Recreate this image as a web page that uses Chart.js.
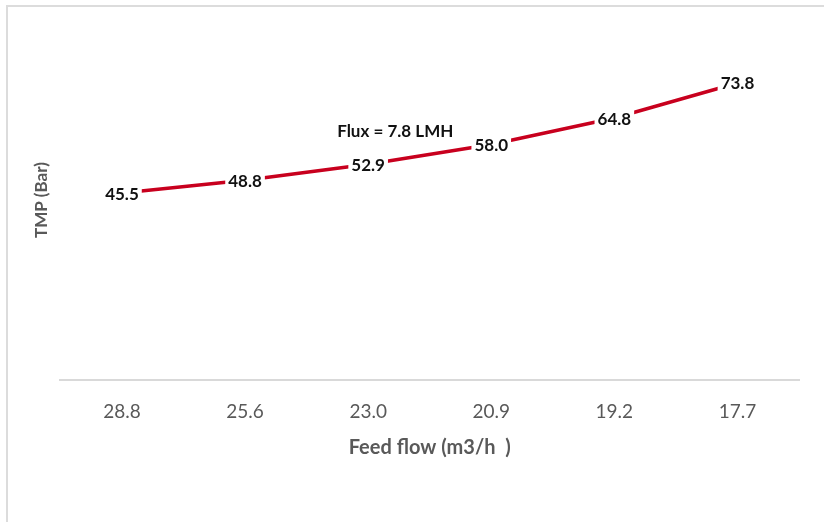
<!DOCTYPE html>
<html>
<head>
<meta charset="utf-8">
<script src="https://cdn.jsdelivr.net/npm/chart.js@4/dist/chart.umd.min.js"></script>
<style>
  html, body { margin: 0; padding: 0; background: #fff; overflow: hidden; }
  #wrap { position: relative; width: 824px; height: 522px; }
  #frame { position: absolute; left: 6px; top: 5px; width: 840px; height: 540px;
           border: 2px solid #dcdcdc; box-sizing: border-box; pointer-events: none; }
  canvas { position: absolute; left: 0; top: 0; }
</style>
</head>
<body>
<div id="wrap">
  <canvas id="chart" width="824" height="522"></canvas>
  <div id="frame"></div>
</div>
<script>
// Feed flow (m3/h) at each operating point
const feedFlow = ['28.8', '25.6', '23.0', '20.9', '19.2', '17.7'];
// Transmembrane pressure (bar) measured at each feed flow
const tmpBar = [45.5, 48.8, 52.9, 58.0, 64.8, 73.8];
// Operating condition note
const fluxNote = 'Flux = 7.8 LMH';

const FONT = 'Lato, "Open Sans", sans-serif';

// Value labels drawn on top of the line, each on a white patch
const valueLabels = {
  id: 'valueLabels',
  afterDatasetsDraw(chart) {
    const ctx = chart.ctx;
    const meta = chart.getDatasetMeta(0);
    ctx.save();
    ctx.font = 'bold 17px ' + FONT;
    ctx.textAlign = 'center';
    ctx.textBaseline = 'middle';
    meta.data.forEach((pt, i) => {
      const txt = tmpBar[i].toFixed(1);
      const w = ctx.measureText(txt).width;
      ctx.fillStyle = '#ffffff';
      ctx.fillRect(pt.x - w / 2 - 3, pt.y - 9, w + 6, 18);
      ctx.fillStyle = '#111111';
      ctx.fillText(txt, pt.x, pt.y + 1);
    });
    // condition note placed in data space
    const xs = chart.scales.x, ys = chart.scales.y;
    ctx.font = 'bold 17px ' + FONT;
    ctx.fillStyle = '#111111';
    ctx.fillText(fluxNote, xs.getPixelForValue(2.22), ys.getPixelForValue(61.4));
    ctx.restore();
  }
};

new Chart(document.getElementById('chart'), {
  type: 'line',
  data: {
    labels: feedFlow,
    datasets: [{
      data: tmpBar,
      borderColor: '#c8001e',
      borderWidth: 3.5,
      pointRadius: 0,
      tension: 0,
      fill: false
    }]
  },
  options: {
    responsive: false,
    animation: false,
    layout: { padding: { left: 27, right: 25, top: 20, bottom: 62 } },
    plugins: { legend: { display: false }, tooltip: { enabled: false } },
    scales: {
      x: {
        offset: true,
        grid: { display: false, drawTicks: false },
        border: { display: true, color: '#d9d9d9', width: 2 },
        ticks: { color: '#595959', font: { family: FONT, size: 19 }, padding: 20 },
        title: {
          display: true,
          text: 'Feed flow (m3/h  )',
          color: '#595959',
          font: { family: FONT, size: 20, weight: 'bold' },
          padding: { top: -7, bottom: 0 }
        }
      },
      y: {
        min: -2.6,
        max: 90,
        grid: { display: false, drawTicks: false },
        border: { display: false },
        ticks: { display: false },
        title: {
          display: true,
          text: 'TMP (Bar)',
          color: '#595959',
          font: { family: FONT, size: 17, weight: 'bold' },
          padding: { top: 4, bottom: 9 }
        }
      }
    }
  },
  plugins: [valueLabels]
});
</script>
</body>
</html>
